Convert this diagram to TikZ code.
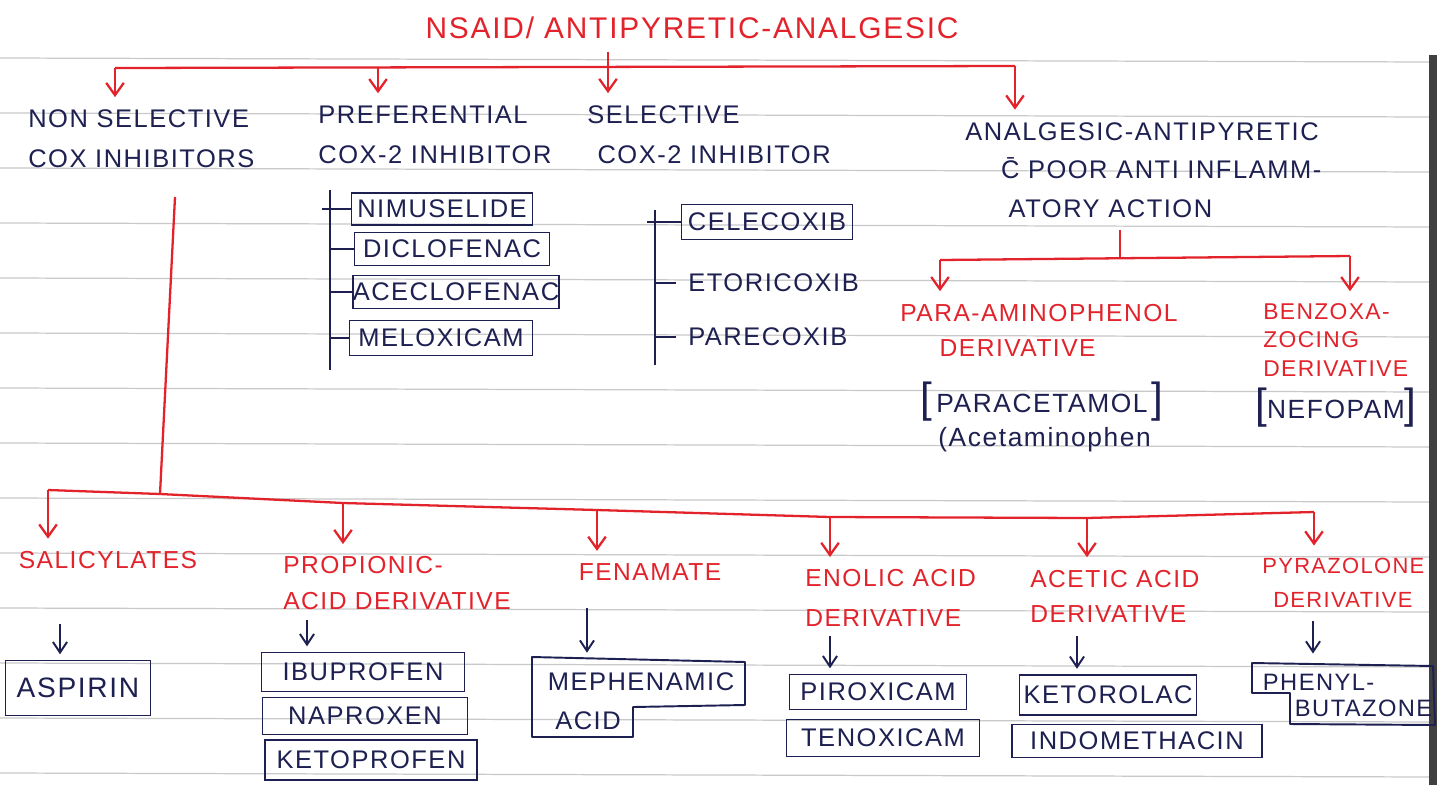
\documentclass[tikz,border=0pt]{standalone}
\usepackage{fontspec}
\setmainfont{Liberation Sans}[LetterSpace=6]
\usetikzlibrary{arrows.meta,calc,positioning}
\definecolor{inkred}{HTML}{E3232B}
\definecolor{inkblue}{HTML}{1D2050}
\definecolor{ruling}{HTML}{C9C9C9}

\begin{document}
\begin{tikzpicture}[
  x=0.02cm,y=-0.02cm,
  redlbl/.style={text=inkred,font=\fontsize{14}{20}\selectfont,align=left,inner xsep=0pt,inner ysep=7pt},
  bluelbl/.style={text=inkblue,font=\fontsize{14.5}{23}\selectfont,align=left,inner xsep=0pt,inner ysep=7pt},
  drug/.style={draw=inkblue,line width=1.1pt,text=inkblue,font=\fontsize{14.5}{17}\selectfont,inner sep=0pt},
  boxsize/.style 2 args={minimum width=#1*0.02cm,minimum height=#2*0.02cm},
  redline/.style={draw=inkred,line width=1.3pt,line join=round},
  redarrow/.style={redline,-{Straight Barb[length=7pt,width=10pt,line width=1.3pt]}},
  blueline/.style={draw=inkblue,line width=1.1pt,line join=round},
  bluearrow/.style={blueline,shorten >=3pt,-{Straight Barb[length=6pt,width=8pt,line width=1.1pt]}},
]
\fill[white] (0,0) rectangle (1437,785);
\useasboundingbox (0,0) rectangle (1437,785);
% ruled paper
\foreach \ry in {58,113,...,773}
  \draw[ruling,line width=0.7pt] (0,\ry) -- (1437,{\ry+4});
\fill[black!75] (1429,55) rectangle (1437,785);

% top level
\node[redlbl,font=\fontsize{17}{20}\selectfont] (title) at (692,28) {NSAID/ ANTIPYRETIC-ANALGESIC};
\node[bluelbl,anchor=west] (nonsel) at (28,139) {NON SELECTIVE\\COX INHIBITORS};
\node[bluelbl,anchor=west] (pref) at (318,135) {PREFERENTIAL\\COX-2 INHIBITOR};
\node[bluelbl,anchor=west] (sel) at (587,135) {SELECTIVE\\\hspace*{0.4em}COX-2 INHIBITOR};
\node[bluelbl,font=\fontsize{14.5}{22}\selectfont,anchor=west] (analg) at (965,170)
  {ANALGESIC-ANTIPYRETIC\\\hspace*{1.4em}\={C} POOR ANTI INFLAMM-\\\hspace*{1.7em}ATORY ACTION};

\coordinate (t1) at (115,68);
\coordinate (t2) at (378,68);
\coordinate (t3) at (608,68);
\coordinate (t4) at (1015,66);
\draw[redline] (t1) -- (t4);
\draw[redline] (title.south -| t3) -- (t3);
\draw[redarrow] (t1) -- (t1 |- nonsel.north);
\draw[redarrow] (t2) -- (t2 |- pref.north);
\draw[redarrow] (t3) -- (t3 |- sel.north);
\draw[redarrow] (t4) -- (t4 |- analg.north);

% preferential cox-2
\node[drug,boxsize={181}{32}] (nimu) at (442,209) {NIMUSELIDE};
\node[drug,boxsize={195}{33}] (diclo) at (452,249) {DICLOFENAC};
\node[drug,boxsize={203}{33}] (acec) at (456,292) {ACECLOFENAC};
\node[drug,boxsize={183}{35}] (melox) at (441,338) {MELOXICAM};
\coordinate (ps1) at (330,190);
\coordinate (ps2) at (330,370);
\draw[blueline] (ps1) -- (ps2);
\draw[blueline] ($(nimu.west -| ps1)+(-8,0)$) -- (nimu.west);
\foreach \n in {diclo,acec,melox}
  \draw[blueline] (\n.west -| ps1) -- (\n.west);

% selective cox-2
\node[drug,boxsize={171}{35}] (celec) at (767,222) {CELECOXIB};
\node[bluelbl,anchor=west] (etor) at (688,283) {ETORICOXIB};
\node[bluelbl,anchor=west] (parec) at (688,337) {PARECOXIB};
\coordinate (ss1) at (655,210);
\coordinate (ss2) at (655,365);
\draw[blueline] (ss1) -- (ss2);
\draw[blueline] ($(celec.west -| ss1)+(-8,0)$) -- (celec.west);
\foreach \n in {etor,parec}
  \draw[blueline,shorten >=7pt] (\n.west -| ss1) -- (\n.west);

% analgesic-antipyretic branch
\node[redlbl,anchor=west] (paraamin) at (900,330) {PARA-AMINOPHENOL\\\hspace*{1.6em}DERIVATIVE};
\node[redlbl,font=\fontsize{13}{16}\selectfont,anchor=west] (benz) at (1263,340) {BENZOXA-\\ZOCING\\DERIVATIVE};
\coordinate (ab) at (1120,258);
\coordinate (ab1) at (940,260);
\coordinate (ab2) at (1350,256);
\draw[redline] (analg.south -| ab) -- (ab);
\draw[redline] (ab1) -- (ab2);
\draw[redarrow] (ab1) -- (ab1 |- paraamin.north);
\draw[redarrow] (ab2) -- (ab2 |- benz.north);

\node[bluelbl,font=\fontsize{15}{18}\selectfont] (para) at (1042,402)
  {{\fontsize{24}{24}\selectfont[}\,PARACETAMOL\,{\fontsize{24}{24}\selectfont]}};
\node[bluelbl,font=\fontsize{15}{18}\selectfont,anchor=west] (acet) at (938,440) {(Acetaminophen};
\node[bluelbl,font=\fontsize{15}{18}\selectfont,anchor=west] (nefo) at (1255,408)
  {{\fontsize{24}{24}\selectfont[}NEFOPAM{\fontsize{24}{24}\selectfont]}};

% non selective branch
\coordinate (ns1) at (175,197);
\coordinate (ns2) at (160,494);
\draw[redline] (ns1) -- (ns2);
\coordinate (d1) at (48,490);
\coordinate (d2) at (343,503);
\coordinate (d3) at (597,510);
\coordinate (d4) at (830,517);
\coordinate (d5) at (1087,518);
\coordinate (d6) at (1314,512);
\draw[redline] (d1) -- (ns2) -- (d2) -- (d3) -- (d4) -- (d5) -- (d6);

\node[redlbl] (sal) at (108,560) {SALICYLATES};
\node[redlbl,anchor=west] (prop) at (283,583) {PROPIONIC-\\ACID DERIVATIVE};
\node[redlbl] (fenam) at (650,572) {FENAMATE};
\node[redlbl,font=\fontsize{14}{22.5}\selectfont,anchor=west] (enol) at (805,598) {ENOLIC ACID\\DERIVATIVE};
\node[redlbl,anchor=west] (acetic) at (1030,596) {ACETIC ACID\\DERIVATIVE};
\node[redlbl,font=\fontsize{12.5}{19.5}\selectfont,anchor=west] (pyraz) at (1262,583) {PYRAZOLONE\\\hspace*{0.5em}DERIVATIVE};

\draw[redarrow] (d1) -- (d1 |- sal.north);
\draw[redarrow] (d2) -- (d2 |- prop.north);
\draw[redarrow] (d3) -- (d3 |- fenam.north);
\draw[redarrow] (d4) -- (d4 |- enol.north);
\draw[redarrow] (d5) -- (d5 |- acetic.north);
\draw[redarrow] (d6) -- (d6 |- pyraz.north);

% drugs
\node[drug,boxsize={145}{55},font=\fontsize{16}{18}\selectfont] (aspirin) at (78,688) {ASPIRIN};
\node[drug,boxsize={203}{39}] (ibup) at (363,672) {IBUPROFEN};
\node[drug,boxsize={205}{37}] (naprox) at (365,716) {NAPROXEN};
\node[drug,boxsize={212}{40}] (ketop) at (371,760) {KETOPROFEN};
\node[drug,draw=none,inner ysep=8pt] (mephen) at (641,682) {MEPHENAMIC};
\node[drug,draw=none] (acid) at (588,721) {ACID};
\draw[blueline] (532,657) -- (745,662) -- (745,705) -- (633,707) -- (633,737) -- (532,737) -- cycle;
\node[drug,boxsize={177}{35}] (pirox) at (878,692) {PIROXICAM};
\node[drug,boxsize={193}{37}] (tenox) at (883,738) {TENOXICAM};
\node[drug,boxsize={177}{40}] (ketor) at (1108,695) {KETOROLAC};
\node[drug,boxsize={250}{33}] (indom) at (1137,741) {INDOMETHACIN};
\node[drug,draw=none,inner ysep=8pt,font=\fontsize{13.5}{16}\selectfont,anchor=west] (phenyl) at (1262,682) {PHENYL-};
\node[drug,draw=none,font=\fontsize{13.5}{16}\selectfont,anchor=west] (buta) at (1294,708) {BUTAZONE};
\draw[blueline] (1252,663) -- (1433,666) -- (1435,725) -- (1290,724) -- (1290,693) -- (1252,693) -- cycle;

\coordinate (b1) at (60,624);
\coordinate (b2) at (307,620);
\coordinate (b3) at (587,608);
\coordinate (b4) at (830,636);
\coordinate (b5) at (1077,636);
\coordinate (b6) at (1313,621);
\draw[bluearrow] (b1) -- (b1 |- aspirin.north);
\draw[bluearrow] (b2) -- (b2 |- ibup.north);
\draw[bluearrow] (b3) -- (b3 |- mephen.north);
\draw[bluearrow] (b4) -- (b4 |- pirox.north);
\draw[bluearrow] (b5) -- (b5 |- ketor.north);
\draw[bluearrow] (b6) -- (b6 |- phenyl.north);
\end{tikzpicture}
\end{document}
